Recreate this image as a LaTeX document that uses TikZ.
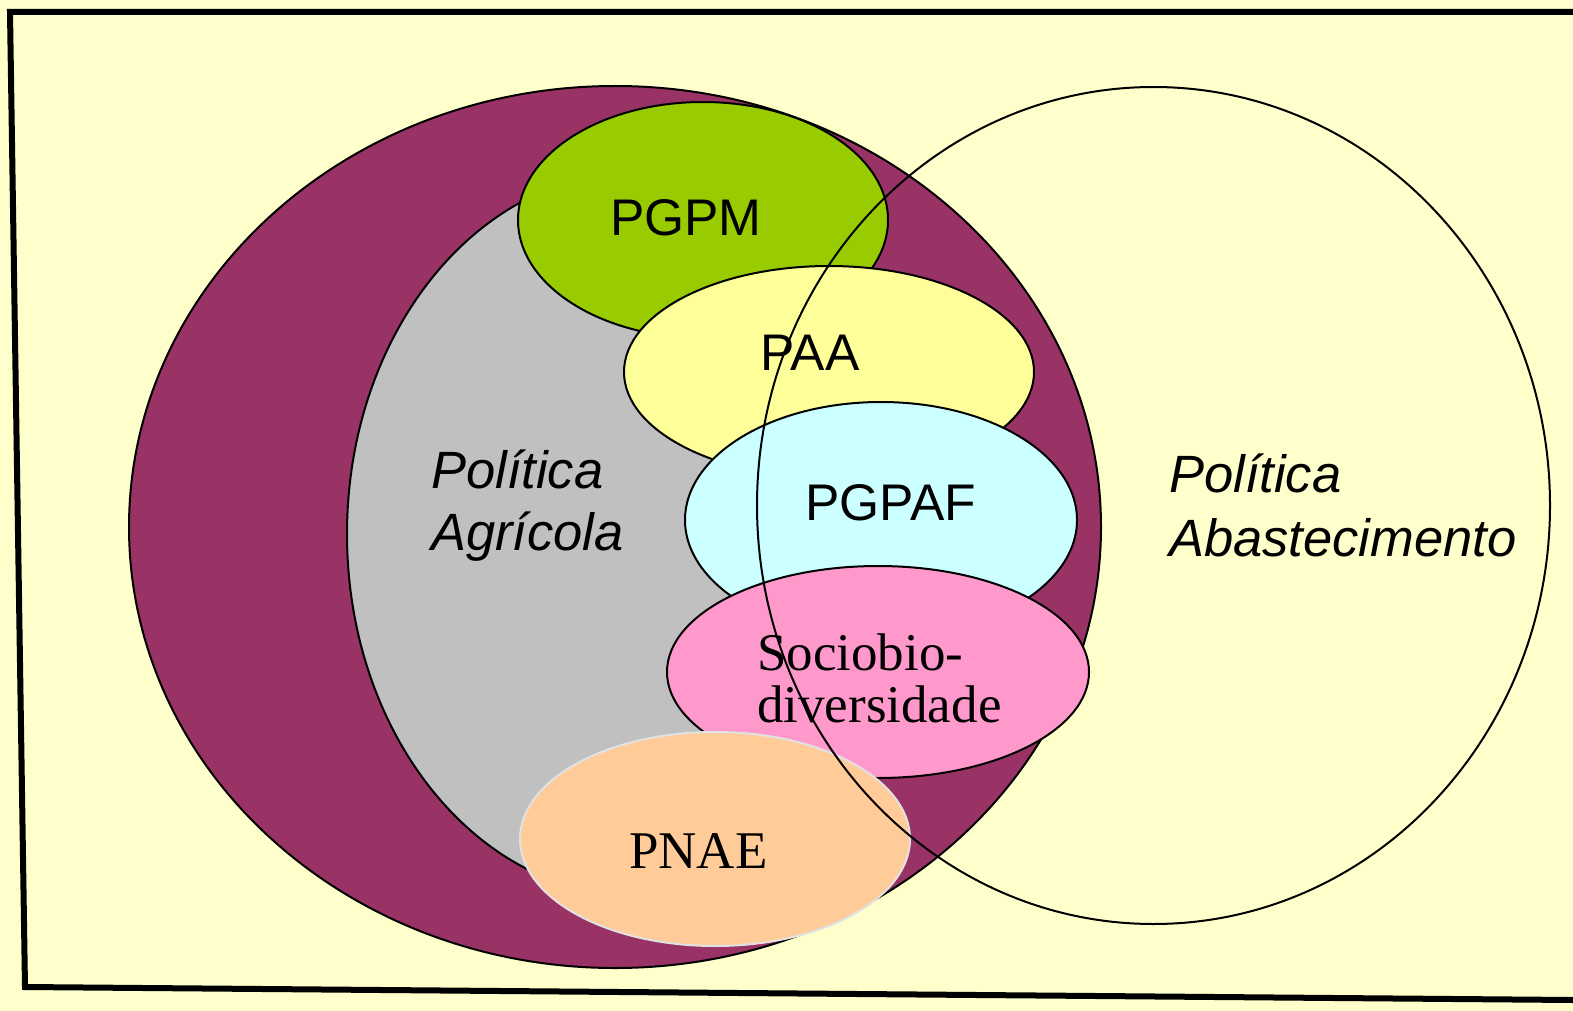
\documentclass[tikz,border=0pt]{standalone}
\usepackage{fontspec}
\setmainfont{Liberation Serif}
\setsansfont{Liberation Sans}
\definecolor{bgyel}{HTML}{FFFFCC}
\definecolor{maroon}{HTML}{993366}
\definecolor{grayfill}{HTML}{C0C0C0}
\definecolor{pgpmgreen}{HTML}{99CC00}
\definecolor{paayel}{HTML}{FFFF99}
\definecolor{pgpafcyan}{HTML}{CCFFFF}
\definecolor{sociopink}{HTML}{FF99CC}
\definecolor{pnaepeach}{HTML}{FFCC99}
\definecolor{pnaeline}{HTML}{E2E2E2}
\tikzset{
  blob/.style={draw=black, line width=2pt},
  sanslabel/.style={inner sep=0pt, anchor=base west, font=\sffamily\fontsize{51.5}{51.5}\selectfont},
  sansital/.style={inner sep=0pt, anchor=base west, font=\sffamily\itshape\fontsize{52.5}{52.5}\selectfont},
  seriflabel/.style={inner sep=0pt, anchor=base west, font=\rmfamily\fontsize{53}{53}\selectfont}
}
\begin{document}
\begin{tikzpicture}[x=1pt,y=-1pt]
\useasboundingbox (0,0) rectangle (1573,1011);
\fill[bgyel] (0,0) rectangle (1573,1011);
% frame
\draw[line width=6pt] (1573,12) -- (10,12) -- (25,987) -- (1573,1000);
% Politica Agricola (outer)
\path[blob, fill=maroon] (615,527) ellipse [x radius=486, y radius=441];
\path[blob, fill=grayfill] (637,534) ellipse [x radius=290, y radius=362];
% sub-policies
\path[blob, fill=pgpmgreen] (703,220) ellipse [x radius=185, y radius=118];
\path[blob, fill=paayel] (829,372) ellipse [x radius=205, y radius=106];
\path[blob, fill=pgpafcyan] (881,520) ellipse [x radius=196, y radius=118];
\path[blob, fill=sociopink] (878,672) ellipse [x radius=211, y radius=106];
\path[draw=pnaeline, line width=2pt, fill=pnaepeach] (715,839) ellipse [x radius=195, y radius=107];
% Politica Abastecimento circle
\draw[line width=2pt] (1153.5,505.5) ellipse [x radius=396.5, y radius=418.5];
% labels
\node[sanslabel] (pgpm) at (610,235) {PGPM};
\node[sanslabel] (paa) at (760,370) {PAA};
\node[sanslabel] (pgpaf) at (805,520) {PGPAF};
\node[sansital] (pa1) at (431,488) {Política};
\node[sansital] (pa2) at (431,550) {Agrícola};
\node[sansital] (pb1) at (1169,492) {Política};
\node[sansital] (pb2) at (1169,556) {Abastecimento};
\node[seriflabel] (soc1) at (757,670) {Sociobio-};
\node[seriflabel] (soc2) at (757,722) {diversidade};
\node[seriflabel] (pnae) at (629,868) {PNAE};
\end{tikzpicture}
\end{document}
